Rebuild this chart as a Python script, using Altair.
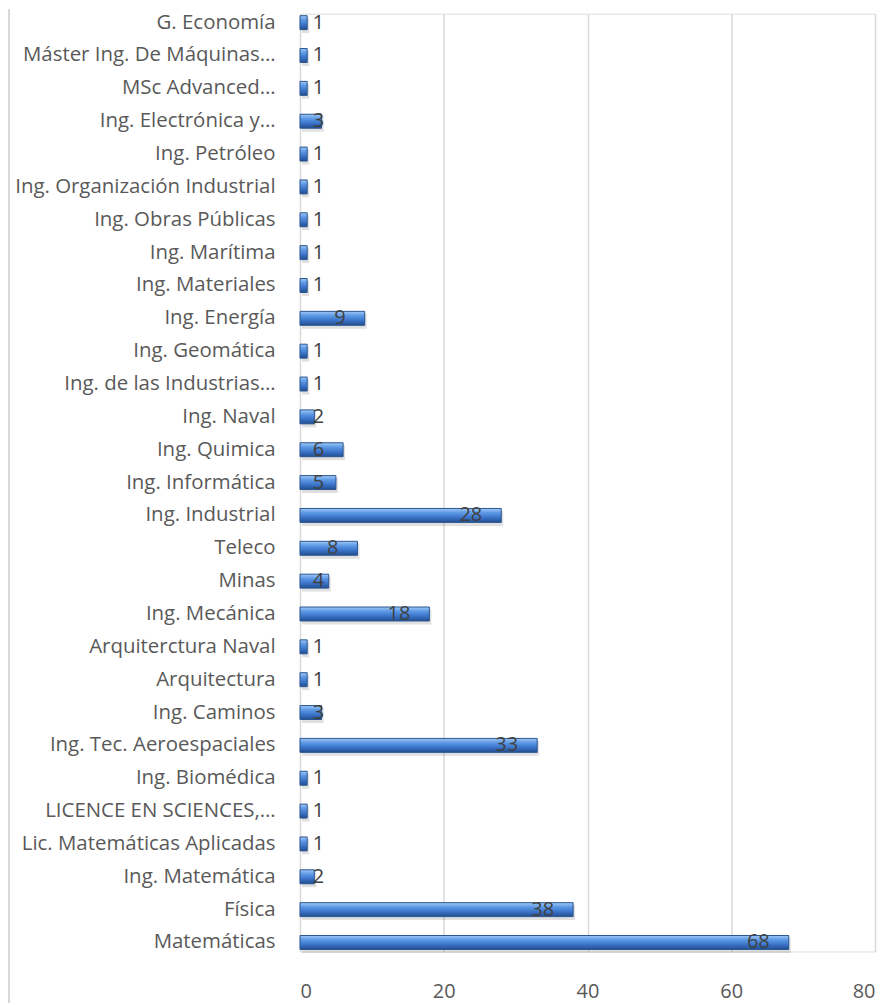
import altair as alt
import pandas as pd

categories = [
    "G. Economía",
    "Máster Ing. De Máquinas…",
    "MSc Advanced…",
    "Ing. Electrónica y…",
    "Ing. Petróleo",
    "Ing. Organización Industrial",
    "Ing. Obras Públicas",
    "Ing. Marítima",
    "Ing. Materiales",
    "Ing. Energía",
    "Ing. Geomática",
    "Ing. de las Industrias…",
    "Ing. Naval",
    "Ing. Quimica",
    "Ing. Informática",
    "Ing. Industrial",
    "Teleco",
    "Minas",
    "Ing. Mecánica",
    "Arquiterctura Naval",
    "Arquitectura",
    "Ing. Caminos",
    "Ing. Tec. Aeroespaciales",
    "Ing. Biomédica",
    "LICENCE EN SCIENCES,…",
    "Lic. Matemáticas Aplicadas",
    "Ing. Matemática",
    "Física",
    "Matemáticas",
]
values = [1, 1, 1, 3, 1, 1, 1, 1, 1, 9, 1, 1, 2, 6, 5, 28, 8, 4, 18, 1, 1, 3, 33, 1, 1, 1, 2, 38, 68]
x_ticks = [0, 20, 40, 60, 80]

df = pd.DataFrame({"cat": categories, "value": values})

FONT = "Open Sans"

y_enc = alt.Y(
    "cat:N",
    sort=categories,
    title=None,
    scale=alt.Scale(paddingInner=0.454, paddingOuter=0),
    axis=alt.Axis(
        domain=False, ticks=False, labelPadding=25, labelFontSize=20.5,
        labelColor="#595959", labelFont=FONT, labelLimit=400,
    ),
)
x_enc = alt.X(
    "value:Q",
    title=None,
    scale=alt.Scale(domain=[0, 80], nice=False),
    axis=alt.Axis(
        values=x_ticks, domain=False, ticks=False, tickSize=0, labelPadding=30,
        labelFontSize=20, labelColor="#595959", labelFont=FONT,
        grid=True, gridColor="#d9d9d9", gridWidth=1.5,
    ),
)

grad = alt.LinearGradient(
    gradient="linear", x1=0, y1=0, x2=0, y2=1,
    stops=[
        alt.GradientStop(offset=0, color="#a2c8f5"),
        alt.GradientStop(offset=0.3, color="#5e9ae6"),
        alt.GradientStop(offset=0.65, color="#3a73c8"),
        alt.GradientStop(offset=1, color="#234e8f"),
    ],
)

shadow = alt.Chart(df).mark_bar(size=15, color="#000000", opacity=0.12, yOffset=3, xOffset=2).encode(
    y=y_enc, x=x_enc
)

bars = alt.Chart(df).mark_bar(size=14, color=grad, stroke="#2a5590", strokeWidth=1).encode(
    y=y_enc, x=x_enc
)

labels = alt.Chart(df).transform_calculate(
    lx="max(datum.value - 2.65, 3.35)"
).mark_text(
    align="right", baseline="middle", fontSize=20, font=FONT, color="#404040"
).encode(
    y=alt.Y("cat:N", sort=categories),
    x=alt.X("lx:Q"),
    text=alt.Text("value:Q"),
)

border = alt.Chart(df).mark_rule(color="#d9d9d9", strokeWidth=2).encode(
    x=alt.value(-292), y=alt.value(-4), y2=alt.value(1000)
)

chart = alt.layer(shadow, bars, labels, border).properties(
    width=577,
    height=941,
    autosize=alt.AutoSizeParams(type="none"),
    padding={"left": 293, "top": 4, "right": 5, "bottom": 50},
).configure_view(stroke=None).configure(background="white")

chart.save("out.html", embed_options={"renderer": "svg", "actions": False})
